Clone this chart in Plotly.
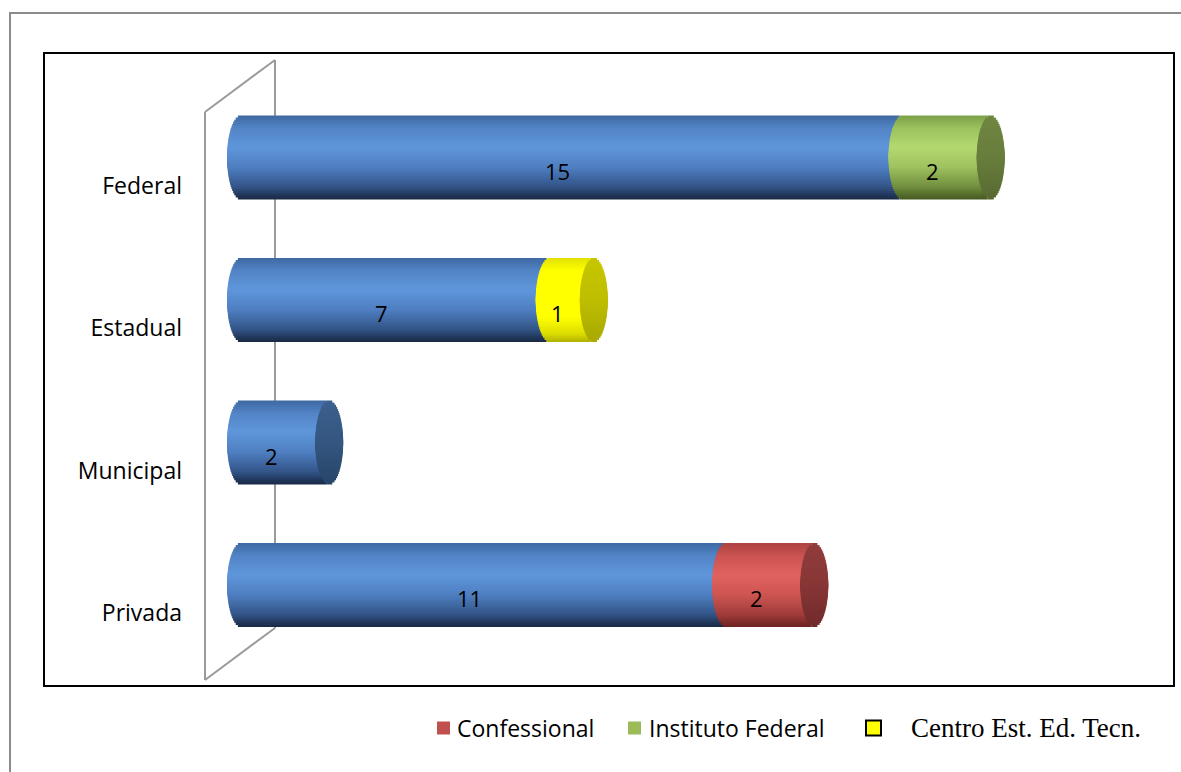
import numpy as np
import plotly.graph_objects as go

# ---------------- data ----------------
categories = ["Privada", "Municipal", "Estadual", "Federal"]   # bottom -> top
main_values = [11, 2, 7, 15]                                   # blue segment
confessional = [2, 0, 0, 0]
instituto_federal = [0, 0, 0, 2]
centro_est = [0, 0, 1, 0]
legend_names = ["Confessional", "Instituto Federal", "Centro Est. Ed. Tecn."]

# ---------------- geometry (page pixels; body margin removed by post_script) ----------------
W, H = 1181, 772
L, R, T, B = 200, 1175, 53, 686          # plot area in pixels
PX0, PXU = 241.0, 44.1                   # pixel of x=0, pixels per unit
YC_TOP, YC_BOT = 157.5, 585.0
YSTEP = (YC_BOT - YC_TOP) / 3
BAR_H = 84 / YSTEP
A = 14 / PXU
N = 40

x_range = [(L - PX0) / PXU, (R - PX0) / PXU]
y_range = [0 - (B - YC_BOT) / YSTEP, 3 + (YC_TOP - T) / YSTEP]

def px_x(p):
    return (p - L) / (R - L)

def px_y(p):
    return (B - p) / (B - T)

def grad(stops, t):
    ts = [s[0] for s in stops]
    c = [np.interp(t, ts, [s[1][i] for s in stops]) for i in range(3)]
    return "rgb(%d,%d,%d)" % tuple(int(round(v)) for v in c)

blue_st = [(0, (62, 104, 160)), (0.15, (82, 132, 198)), (0.38, (95, 150, 219)),
           (0.62, (78, 126, 192)), (0.85, (50, 84, 136)), (1, (24, 40, 66))]
green_st = [(0, (125, 160, 72)), (0.15, (154, 194, 94)), (0.38, (181, 217, 113)),
            (0.62, (158, 192, 94)), (0.85, (112, 142, 62)), (1, (68, 88, 34))]
yellow_st = [(0, (225, 225, 0)), (0.15, (255, 255, 0)), (0.7, (255, 255, 0)),
             (0.9, (222, 222, 0)), (1, (175, 175, 0))]
red_st = [(0, (172, 66, 63)), (0.15, (203, 83, 80)), (0.38, (225, 98, 95)),
          (0.62, (205, 85, 81)), (0.85, (160, 60, 58)), (1, (108, 34, 34))]
cap_blue = [(0, (60, 96, 142)), (0.5, (52, 86, 128)), (1, (40, 68, 104))]
cap_green = [(0, (112, 134, 66)), (0.5, (104, 125, 60)), (1, (88, 106, 50))]
cap_yellow = [(0, (198, 198, 0)), (0.5, (190, 190, 0)), (1, (168, 168, 0))]
cap_red = [(0, (145, 60, 60)), (0.5, (135, 54, 54)), (1, (112, 42, 42))]

series = [
    (main_values, blue_st, cap_blue),
    (confessional, red_st, cap_red),
    (instituto_federal, green_st, cap_green),
    (centro_est, yellow_st, cap_yellow),
]

idx = list(range(len(categories)))
totals = [m + c + i + e for m, c, i, e in zip(main_values, confessional, instituto_federal, centro_est)]

seg_starts = []
running = [0] * len(categories)
for vals, _, _ in series:
    seg_starts.append(list(running))
    running = [r + v for r, v in zip(running, vals)]

cap_series = []
for k in idx:
    cs = cap_blue
    for vals, _, cap in series:
        if vals[k] > 0:
            cs = cap
    cap_series.append(cs)

# slice order: outer slices first, inner last; each slice extends to the bar centre
sw = BAR_H / N
order = []
for d in range(N // 2):
    order.append(d)
    order.append(N - 1 - d)

def slice_geom(j):
    t = (j + 0.5) / N
    s = np.sqrt(max(0.0, 1 - (2 * t - 1) ** 2))
    top = BAR_H / 2 - j * sw
    bot = BAR_H / 2 - (j + 1) * sw
    if t < 0.5:
        lo, hi = -0.02 * sw, top
    else:
        lo, hi = bot, 0.02 * sw
    return t, s, lo, hi - lo

fig = go.Figure()

for (vals, st, _), starts in zip(series, seg_starts):
    ks = [k for k in idx if vals[k] > 0]
    if not ks:
        continue
    for j in order:
        t, s, off, wd = slice_geom(j)
        fig.add_trace(go.Bar(
            orientation="h",
            y=ks,
            x=[vals[k] for k in ks],
            base=[starts[k] - A * s for k in ks],
            width=wd, offset=off,
            marker=dict(color=grad(st, t), line=dict(width=0)),
            showlegend=False, hoverinfo="skip",
        ))

for j in order:
    t, s, off, wd = slice_geom(j)
    fig.add_trace(go.Bar(
        orientation="h",
        y=idx,
        x=[2 * A * s] * len(idx),
        base=[totals[k] - A * s for k in idx],
        width=wd, offset=off,
        marker=dict(color=[grad(cap_series[k], t) for k in idx], line=dict(width=0)),
        showlegend=False, hoverinfo="skip",
    ))

# data labels
annotations = []
for (vals, _, _), starts in zip(series, seg_starts):
    for k in idx:
        if vals[k] > 0:
            annotations.append(dict(
                x=starts[k] + vals[k] / 2 - A, y=k, xref="x", yref="y",
                text=str(vals[k]), showarrow=False, yshift=-13,
                font=dict(family="Open Sans", size=22, color="black"),
            ))

# legend (manual)
leg_font = dict(family="Open Sans", size=23, color="black")
leg_items = [
    (legend_names[0], "#c0504d", 437, 13, None, 455, leg_font),
    (legend_names[1], "#9bbb59", 628, 13, None, 647, leg_font),
    (legend_names[2], "#ffff00", 866, 15, "black", 909,
     dict(family="Liberation Serif", size=27, color="black")),
]
shapes = []
for name, col, sx, size, lc, tx, fnt in leg_items:
    yc = 728
    shapes.append(dict(type="rect", xref="paper", yref="paper",
                       x0=px_x(sx), x1=px_x(sx + size),
                       y0=px_y(yc + size / 2), y1=px_y(yc - size / 2),
                       fillcolor=col,
                       line=dict(color=lc if lc else col, width=2 if lc else 0)))
    annotations.append(dict(x=px_x(tx), y=px_y(yc), xref="paper", yref="paper",
                            xanchor="left", yanchor="middle", text=name,
                            showarrow=False, font=fnt))

# frames
shapes.append(dict(type="rect", xref="paper", yref="paper",
                   x0=px_x(10), x1=px_x(1200), y0=px_y(800), y1=px_y(13),
                   line=dict(color="#8c8c8c", width=2), layer="below"))
shapes.append(dict(type="rect", xref="paper", yref="paper",
                   x0=px_x(44), x1=px_x(1174), y0=px_y(686), y1=px_y(53),
                   line=dict(color="black", width=2), layer="below"))
# 3D wall
wall = "#9a9a9a"
for (x0, y0, x1, y1) in [(205, 112, 205, 680), (275, 60, 275, 628),
                         (205, 112, 275, 60), (205, 680, 275, 628)]:
    shapes.append(dict(type="line", xref="paper", yref="paper",
                       x0=px_x(x0), y0=px_y(y0), x1=px_x(x1), y1=px_y(y1),
                       line=dict(color=wall, width=2), layer="below"))

fig.update_layout(
    width=W, height=H,
    margin=dict(l=L, r=W - R, t=T, b=H - B),
    paper_bgcolor="white", plot_bgcolor="rgba(0,0,0,0)",
    barmode="overlay",
    showlegend=False,
    xaxis=dict(range=x_range, showgrid=False, zeroline=False, showticklabels=False,
               showline=False, fixedrange=True),
    yaxis=dict(range=y_range, tickvals=idx, ticktext=categories, showgrid=False,
               zeroline=False, showline=False, ticks="", ticklabelshift=28,
               ticklabelstandoff=17,
               tickfont=dict(family="Open Sans", size=23, color="black"),
               fixedrange=True),
    shapes=shapes,
    annotations=annotations,
)

fig.write_html(
    "out.html",
    config={"displayModeBar": False},
    post_script="document.body.style.margin='0';document.body.style.overflow='hidden';",
)
